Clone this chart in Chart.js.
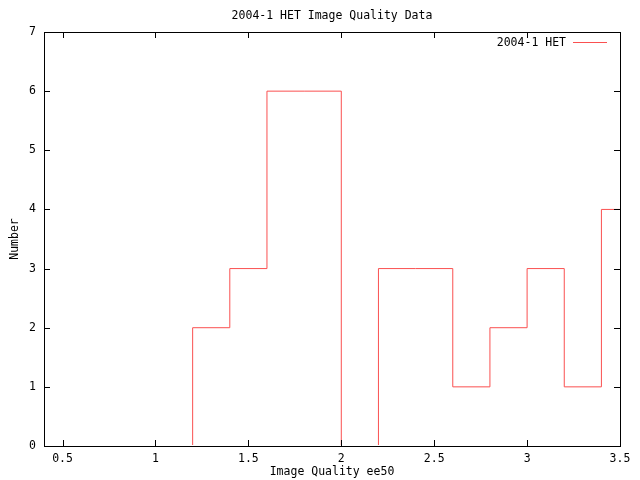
<!DOCTYPE html>
<html>
<head>
<meta charset="utf-8">
<script src="https://cdn.jsdelivr.net/npm/chart.js@4"></script>
<style>
	html, body { margin: 0; padding: 0; background: #fff; }
	#wrap { width: 640px; height: 480px; }
</style>
</head>
<body>
<div id="wrap"><canvas id="histChart" width="640" height="480"></canvas></div>
<script>
// bin left edges and counts
const binStarts = [1.0, 1.2, 1.4, 1.6, 1.8, 2.0, 2.2, 2.4, 2.6, 2.8, 3.0, 3.2, 3.4];
const counts    = [0,   2,   3,   6,   6,   0,   3,   3,   1,   2,   3,   1,   4];
const xTicks = [0.5, 1, 1.5, 2, 2.5, 3, 3.5];
const yTicks = [0, 1, 2, 3, 4, 5, 6, 7];
const xMin = 0.4, xMax = 3.5, yMin = 0, yMax = 7;

const chartTitle = '2004-1 HET Image Quality Data';
const seriesName = '2004-1 HET';
const xTitle = 'Image Quality ee50';
const yTitle = 'Number';

const lineColor = 'rgb(250,80,80)';
const FONT = '"DejaVu Sans Mono", "Liberation Mono", monospace';
const FSIZE = 11.5;

const points = binStarts.map((x, i) => ({ x: x, y: counts[i] }));
points.push({ x: xMax, y: counts[counts.length - 1] });

// gnuplot-ish frame, inward ticks, title and legend
const gnuplotDecor = {
	id: 'gnuplotDecor',
	afterDatasetsDraw(chart) {
		const ctx = chart.ctx;
		const a = chart.chartArea;
		const xs = chart.scales.x, ys = chart.scales.y;
		const tl = 6;
		const L = Math.round(a.left), R = Math.round(a.right);
		const T = Math.round(a.top), B = Math.round(a.bottom);
		ctx.save();
		// the zero-count line sits under the x axis in the original
		ctx.fillStyle = '#fff';
		ctx.fillRect(L + 1, B - 1, R - L - 1, 1);

		ctx.strokeStyle = '#000';
		ctx.lineWidth = 1;
		ctx.beginPath();
		xTicks.forEach(v => {
			const px = Math.round(xs.getPixelForValue(v)) + 0.5;
			ctx.moveTo(px, B); ctx.lineTo(px, B - tl);
			ctx.moveTo(px, T); ctx.lineTo(px, T + tl);
		});
		yTicks.forEach(v => {
			const py = Math.round(ys.getPixelForValue(v)) + 0.5;
			ctx.moveTo(L, py); ctx.lineTo(L + tl, py);
			ctx.moveTo(R, py); ctx.lineTo(R - tl, py);
		});
		ctx.stroke();
		ctx.strokeRect(L + 0.5, T + 0.5, R - L, B - T);

		ctx.fillStyle = '#000';
		ctx.font = FSIZE + 'px ' + FONT;
		ctx.textBaseline = 'middle';
		ctx.textAlign = 'center';
		ctx.fillText(chartTitle, (a.left + a.right) / 2, 16);

		ctx.textAlign = 'right';
		ctx.fillText(seriesName, a.right - 54, a.top + 11);
		ctx.strokeStyle = lineColor;
		ctx.beginPath();
		ctx.moveTo(a.right - 47, a.top + 10.5);
		ctx.lineTo(a.right - 13, a.top + 10.5);
		ctx.stroke();
		ctx.restore();
	}
};

const ctx = document.getElementById('histChart').getContext('2d');
new Chart(ctx, {
	type: 'line',
	data: {
		datasets: [{
			label: seriesName,
			data: points,
			stepped: 'before',
			borderColor: lineColor,
			borderWidth: 1,
			pointRadius: 0,
			fill: false
		}]
	},
	options: {
		responsive: false,
		animation: false,
		maintainAspectRatio: false,
		layout: { padding: { top: 32, right: 20, left: 0, bottom: 0 } },
		plugins: {
			legend: { display: false },
			title: { display: false },
			tooltip: { enabled: false }
		},
		scales: {
			x: {
				type: 'linear',
				min: xMin,
				max: xMax,
				afterBuildTicks: s => { s.ticks = xTicks.map(v => ({ value: v })); },
				afterFit: s => { s.height = 34; s.paddingLeft = 0; s.paddingRight = 0; },
				grid: { display: false, drawTicks: false },
				border: { display: false },
				ticks: {
					color: '#000',
					padding: 6,
					maxRotation: 0,
					autoSkip: false,
					callback: v => String(v),
					font: { family: FONT, size: FSIZE }
				},
				title: {
					display: true,
					text: xTitle,
					color: '#000',
					padding: { top: 0, bottom: 1 },
					font: { family: FONT, size: FSIZE }
				}
			},
			y: {
				type: 'linear',
				min: yMin,
				max: yMax,
				afterBuildTicks: s => { s.ticks = yTicks.map(v => ({ value: v })); },
				afterFit: s => { s.width = 44; s.paddingTop = 0; s.paddingBottom = 0; },
				grid: { display: false, drawTicks: false },
				border: { display: false },
				ticks: {
					color: '#000',
					padding: 8,
					autoSkip: false,
					callback: v => String(v),
					font: { family: FONT, size: FSIZE }
				},
				title: {
					display: true,
					text: yTitle,
					color: '#000',
					padding: { top: 8, bottom: 0 },
					font: { family: FONT, size: FSIZE }
				}
			}
		}
	},
	plugins: [gnuplotDecor]
});
</script>
</body>
</html>
